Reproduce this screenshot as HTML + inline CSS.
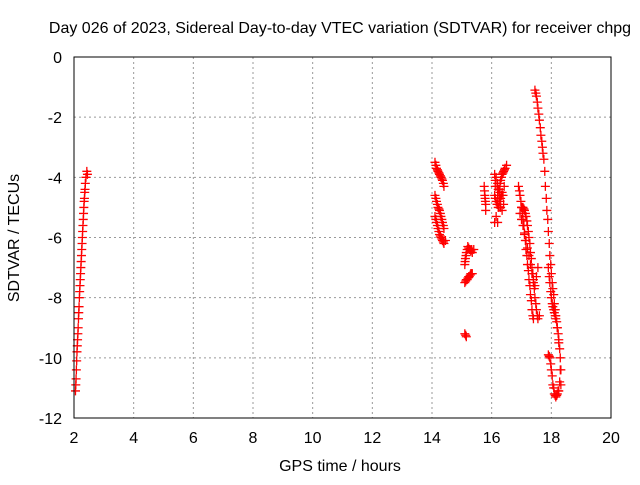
<!DOCTYPE html>
<html><head><meta charset="utf-8"><style>
body{margin:0;background:#fff}
svg{font-family:"Liberation Sans",sans-serif;font-size:16px}
</style></head><body>
<svg id="c" width="640" height="480">
<rect width="640" height="480" fill="#fff"/>
<text x="340" y="33" text-anchor="middle">Day 026 of 2023, Sidereal Day-to-day VTEC variation (SDTVAR) for receiver chpg</text>
<text x="340" y="471" text-anchor="middle">GPS time / hours</text>
<text transform="translate(19,238) rotate(-90)" text-anchor="middle">SDTVAR / TECUs</text>
<g id="grid"></g><g id="marks"></g>
<rect x="74" y="57" width="537" height="361" fill="none" stroke="#000"/>
</svg>
<script>
const xTicks=[2,4,6,8,10,12,14,16,18,20];
const yTicks=[0,-2,-4,-6,-8,-10,-12];
const t1=[2.05,2.06,2.07,2.08,2.09,2.1,2.11,2.12,2.13,2.14,2.15,2.16,2.17,2.18,2.19,2.2,2.21,2.22,2.23,2.24,2.25,2.26,2.27,2.28,2.29,2.3,2.31,2.32,2.33,2.34,2.35,2.36,2.37,2.38,2.4,2.43,2.45];
const v1=[-11.1,-10.9,-10.7,-10.4,-10.1,-9.8,-9.6,-9.4,-9.2,-9.0,-8.7,-8.5,-8.3,-8.0,-7.8,-7.6,-7.4,-7.2,-7.0,-6.8,-6.6,-6.4,-6.2,-6.0,-5.8,-5.6,-5.4,-5.2,-5.0,-4.8,-4.7,-4.5,-4.4,-4.2,-4.0,-3.8,-3.9];
const t2=[14.1,14.13,14.15,14.18,14.2,14.23,14.25,14.28,14.3,14.33,14.35,14.38,14.4,14.1,14.13,14.15,14.18,14.2,14.23,14.25,14.28,14.3,14.33,14.35,14.38,14.4,14.1,14.13,14.15,14.18,14.2,14.23,14.25,14.28,14.3,14.33,14.35,14.38,14.4,14.45];
const v2=[-3.5,-3.6,-3.7,-3.75,-3.8,-3.85,-3.9,-3.95,-4.0,-4.05,-4.1,-4.2,-4.3,-4.6,-4.7,-4.8,-4.9,-5.0,-5.05,-5.1,-5.2,-5.3,-5.4,-5.5,-5.6,-5.7,-5.3,-5.4,-5.5,-5.6,-5.7,-5.8,-5.9,-5.95,-6.0,-6.05,-6.1,-6.15,-6.2,-6.1];
const t3=[15.1,15.13,15.15,15.1,15.13,15.15,15.18,15.2,15.23,15.25,15.28,15.3,15.33,15.35,15.1,15.11,15.12,15.14,15.15,15.18,15.2,15.23,15.25,15.28,15.3,15.33,15.35,15.4];
const v3=[-9.2,-9.25,-9.3,-7.5,-7.45,-7.4,-7.4,-7.35,-7.3,-7.3,-7.25,-7.2,-7.2,-7.2,-6.9,-6.8,-6.7,-6.6,-6.5,-6.4,-6.3,-6.35,-6.4,-6.4,-6.45,-6.4,-6.5,-6.4];
const t4=[15.75,15.76,15.77,15.78,15.79,15.8,15.8,16.1,16.12,16.15,16.18,16.2,16.22,16.25,16.28,16.3,16.33,16.35,16.38,16.4,16.43,16.45,16.5,16.1,16.12,16.15,16.18,16.2,16.22,16.25,16.28,16.3,16.33,16.35,16.38,16.4,16.15,16.2,16.3,16.1,16.2,16.25,16.35,16.12,16.28,16.42];
const v4=[-4.3,-4.45,-4.6,-4.7,-4.8,-4.9,-5.1,-3.9,-4.1,-4.0,-4.3,-4.2,-4.4,-4.4,-4.2,-4.1,-4.0,-3.9,-3.85,-3.8,-3.75,-3.7,-3.6,-4.6,-4.7,-4.8,-4.9,-4.9,-5.0,-5.0,-4.8,-4.7,-4.6,-4.5,-4.6,-4.9,-5.3,-5.5,-5.0,-5.5,-4.6,-4.7,-5.1,-4.3,-4.5,-4.3];
const t5=[16.9,16.93,16.95,16.98,17.0,17.03,17.05,17.08,17.1,17.13,17.15,17.18,17.2,17.23,17.25,17.28,17.3,17.33,17.35,17.38,17.4,17.0,17.03,17.05,17.08,17.1,17.13,17.15,17.18,17.2,17.23,17.25,17.28,17.3,17.33,17.35,17.38,17.4,17.43,17.45,17.48,17.5,17.53,17.55,17.6,16.95,17.0,17.05,17.1,17.15,17.2,17.25,17.3,17.35,17.4,17.45,17.5,17.55];
const v5=[-4.3,-4.45,-4.6,-4.8,-5.0,-5.2,-5.4,-5.6,-5.9,-6.1,-6.4,-6.6,-6.9,-7.1,-7.4,-7.6,-7.9,-8.1,-8.4,-8.6,-8.7,-5.0,-5.0,-5.0,-5.05,-5.1,-5.2,-5.3,-5.45,-5.6,-5.8,-6.0,-6.2,-6.5,-6.7,-7.0,-7.2,-7.5,-7.7,-8.0,-8.2,-8.4,-8.6,-8.7,-8.6,-5.2,-5.4,-5.6,-5.85,-6.1,-6.35,-6.6,-6.9,-7.2,-7.4,-7.6,-7.3,-7.0];
const t6=[17.45,17.48,17.5,17.53,17.55,17.58,17.6,17.63,17.65,17.68,17.7,17.72,17.75,17.78,17.8,17.83,17.85,17.88,17.9,17.93,17.95,17.98,18.0,18.03,18.05,18.08,18.1,18.13,18.15,18.18,18.2,18.23,18.25,18.28,18.3,18.32,17.9,17.93,17.95,17.98,18.0,18.03,18.05,18.08,18.1,18.13,18.15,18.2,18.25];
const v6=[-1.1,-1.2,-1.3,-1.5,-1.7,-1.9,-2.1,-2.35,-2.6,-2.8,-3.0,-3.2,-3.4,-3.8,-4.3,-4.7,-5.1,-5.4,-5.8,-6.2,-6.6,-6.9,-7.2,-7.5,-7.7,-7.9,-8.2,-8.4,-8.6,-8.8,-9.0,-9.2,-9.4,-9.7,-10.0,-10.4,-7.0,-7.3,-7.5,-7.8,-8.0,-8.2,-8.3,-8.4,-8.5,-8.6,-8.7,-9.0,-9.5];
const t7=[17.9,17.93,17.95,17.98,18.0,18.03,18.05,18.08,18.1,18.13,18.15,18.18,18.2,18.23,18.25,18.28,18.3,18.32];
const v7=[-9.9,-9.95,-10.0,-10.2,-10.4,-10.6,-10.9,-11.0,-11.2,-11.25,-11.3,-11.25,-11.2,-11.1,-11.1,-10.8,-10.4,-10.9];
const X=t=>74+(t-2)*537/18, Y=v=>57-v*361/12;
const ns="http://www.w3.org/2000/svg";
const grid=document.getElementById('grid'), marks=document.getElementById('marks');
xTicks.forEach(t=>{const x=X(t);
 if(t>2&&t<20){const l=document.createElementNS(ns,'line');l.setAttribute('x1',x);l.setAttribute('x2',x);l.setAttribute('y1',57);l.setAttribute('y2',418);l.setAttribute('stroke','#999');l.setAttribute('stroke-dasharray','2,3');
 
 grid.appendChild(l);}
 const tx=document.createElementNS(ns,'text');tx.setAttribute('x',x);tx.setAttribute('y',443);tx.setAttribute('text-anchor','middle');tx.textContent=t;
 
 grid.appendChild(tx);});
yTicks.forEach(v=>{const y=Y(v);
 if(v<0&&v>-12){const l=document.createElementNS(ns,'line');l.setAttribute('x1',74);l.setAttribute('x2',611);l.setAttribute('y1',y);l.setAttribute('y2',y);l.setAttribute('stroke','#999');l.setAttribute('stroke-dasharray','2,3');
 
 grid.appendChild(l);}
 const tx=document.createElementNS(ns,'text');tx.setAttribute('x',62);tx.setAttribute('y',y+6);tx.setAttribute('text-anchor','end');tx.textContent=v;
 
 grid.appendChild(tx);});
[[t1,v1],[t2,v2],[t3,v3],[t4,v4],[t5,v5],[t6,v6],[t7,v7]].forEach(([ts,vs])=>{
 ts.forEach((t,i)=>{const x=X(t),y=Y(vs[i]);
  const p=document.createElementNS(ns,'path');
  p.setAttribute('d',`M${x-4.5} ${y}H${x+4.5}M${x} ${y-4.5}V${y+4.5}`);p.setAttribute('stroke','#f00');p.setAttribute('stroke-width','1.3');
  
  marks.appendChild(p);});});
</script>
</body></html>
